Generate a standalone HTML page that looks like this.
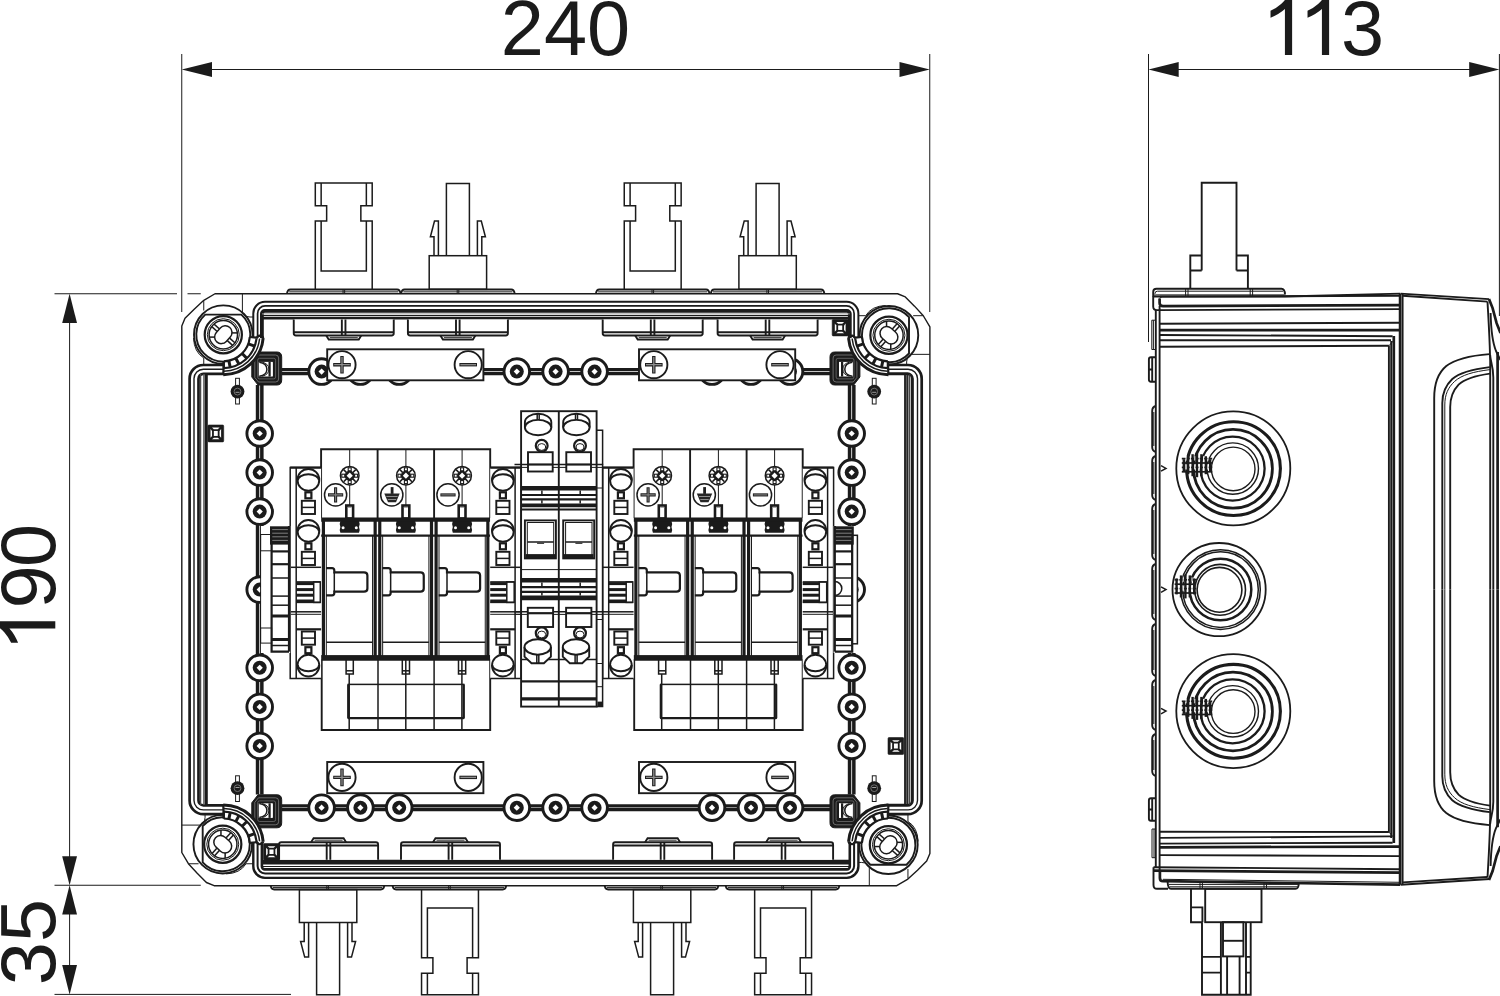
<!DOCTYPE html>
<html><head><meta charset="utf-8"><title>Drawing</title><style>
html,body{margin:0;padding:0;background:#fff}
svg{display:block;font-family:"Liberation Sans",sans-serif}
path,rect,circle,ellipse,polyline,polygon,line{fill:none;stroke:#1b1b1b;stroke-width:1;stroke-linejoin:miter}
.t{stroke-width:1} .h{stroke-width:.8} .m{stroke-width:1.5} .k{stroke-width:2.2} .n{stroke-width:1.9} .kn{stroke-width:2.7} .kk{stroke-width:3}
.f{fill:#1b1b1b;stroke:none} .w{fill:#fff}
text{fill:#1b1b1b}
</style></head><body>
<svg width="1500" height="996" viewBox="0 0 1500 996">
<g id="dims">
<path class="t" d="M181.75 54L181.75 312"/>
<path class="t" d="M929.75 54L929.75 312"/>
<path class="t" d="M200 69.5L912 69.5"/>
<path class="f" d="M181.75 69.5L212 62V77Z"/><path class="f" d="M929.75 69.5L899.5 62V77Z"/>
<text x="500.8" y="55" font-size="77.5">240</text>
<path class="t" d="M1148.5 54L1148.5 342"/>
<path class="t" d="M1499.4 54L1499.4 316"/>
<path class="t" d="M1170 69.5L1480 69.5"/>
<path class="f" d="M1148.5 69.5L1178.7 62V77Z"/><path class="f" d="M1499.4 69.5L1469.2 62V77Z"/>
<path class="f" transform="translate(1261.6,55) rotate(0) scale(0.04,-0.04)" d="M763 0H583V1147Q518 1085 412.5 1023Q307 961 223 930V1104Q374 1175 487 1276Q600 1377 647 1472H763Z"/>
<path class="f" transform="translate(1298.6,55) rotate(0) scale(0.04,-0.04)" d="M763 0H583V1147Q518 1085 412.5 1023Q307 961 223 930V1104Q374 1175 487 1276Q600 1377 647 1472H763Z"/>
<text x="1341" y="55" font-size="77.5">3</text>
<path class="t" d="M54.5 293.75L177 293.75"/>
<path class="t" d="M187.5 293.75L200.75 293.75"/>
<path class="t" d="M54.5 885.25L200.75 885.25"/>
<path class="t" d="M54.5 994.4L291 994.4"/>
<path class="t" d="M69.6 310L69.6 870"/>
<path class="t" d="M69.6 900L69.6 980"/>
<path class="f" d="M69.6 293.75L62.2 323H77Z"/><path class="f" d="M69.6 885.25L62.2 856.2H77Z"/>
<path class="f" d="M69.6 885.25L62.2 914.5H77Z"/><path class="f" d="M69.6 994.4L62.2 965H77Z"/>
<path class="f" transform="translate(55.3,651.7) rotate(-90) scale(0.04,-0.04)" d="M763 0H583V1147Q518 1085 412.5 1023Q307 961 223 930V1104Q374 1175 487 1276Q600 1377 647 1472H763Z"/>
<text transform="translate(55.3,608.5) rotate(-90)" font-size="77.5">9</text>
<text transform="translate(55.3,566.9) rotate(-90)" font-size="77.5">0</text>
<text transform="translate(55.3,985.2) rotate(-90)" font-size="77.5">35</text>
</g>
<g id="front">
<path class="t" style="stroke-width:3.2" d="M281.5 369.7L830 369.7"/>
<path class="t" style="stroke-width:3.2" d="M281.5 373.55L830 373.55"/>
<path class="t" style="stroke-width:3.2" d="M281.5 805.8L830 805.8"/>
<path class="t" style="stroke-width:3.2" d="M281.5 809.65L830 809.65"/>
<path class="t" style="stroke-width:3.5" d="M257.55 385L257.55 794.5"/>
<path class="t" style="stroke-width:3.5" d="M261.85 385L261.85 794.5"/>
<path class="t" style="stroke-width:3.5" d="M849.55 385L849.55 794.5"/>
<path class="t" style="stroke-width:3.5" d="M853.85 385L853.85 794.5"/>
<circle cx="321.6" cy="371.6" r="12.8" style="fill:#fff;stroke-width:2.9"/>
<circle class="f" cx="321.6" cy="371.6" r="7"/>
<path d="M318.5 371.6L321.6 368.5L324.7 371.6L321.6 374.7Z" style="fill:#fff;stroke:none"/>
<circle cx="321.6" cy="807.7" r="12.8" style="fill:#fff;stroke-width:2.9"/>
<circle class="f" cx="321.6" cy="807.7" r="7"/>
<path d="M318.5 807.7L321.6 804.6L324.7 807.7L321.6 810.8Z" style="fill:#fff;stroke:none"/>
<circle cx="360.4" cy="371.6" r="12.8" style="fill:#fff;stroke-width:2.9"/>
<circle class="f" cx="360.4" cy="371.6" r="7"/>
<path d="M357.3 371.6L360.4 368.5L363.5 371.6L360.4 374.7Z" style="fill:#fff;stroke:none"/>
<circle cx="360.4" cy="807.7" r="12.8" style="fill:#fff;stroke-width:2.9"/>
<circle class="f" cx="360.4" cy="807.7" r="7"/>
<path d="M357.3 807.7L360.4 804.6L363.5 807.7L360.4 810.8Z" style="fill:#fff;stroke:none"/>
<circle cx="399.2" cy="371.6" r="12.8" style="fill:#fff;stroke-width:2.9"/>
<circle class="f" cx="399.2" cy="371.6" r="7"/>
<path d="M396.1 371.6L399.2 368.5L402.3 371.6L399.2 374.7Z" style="fill:#fff;stroke:none"/>
<circle cx="399.2" cy="807.7" r="12.8" style="fill:#fff;stroke-width:2.9"/>
<circle class="f" cx="399.2" cy="807.7" r="7"/>
<path d="M396.1 807.7L399.2 804.6L402.3 807.7L399.2 810.8Z" style="fill:#fff;stroke:none"/>
<circle cx="516.8" cy="371.6" r="12.8" style="fill:#fff;stroke-width:2.9"/>
<circle class="f" cx="516.8" cy="371.6" r="7"/>
<path d="M513.7 371.6L516.8 368.5L519.9 371.6L516.8 374.7Z" style="fill:#fff;stroke:none"/>
<circle cx="516.8" cy="807.7" r="12.8" style="fill:#fff;stroke-width:2.9"/>
<circle class="f" cx="516.8" cy="807.7" r="7"/>
<path d="M513.7 807.7L516.8 804.6L519.9 807.7L516.8 810.8Z" style="fill:#fff;stroke:none"/>
<circle cx="555.6" cy="371.6" r="12.8" style="fill:#fff;stroke-width:2.9"/>
<circle class="f" cx="555.6" cy="371.6" r="7"/>
<path d="M552.5 371.6L555.6 368.5L558.7 371.6L555.6 374.7Z" style="fill:#fff;stroke:none"/>
<circle cx="555.6" cy="807.7" r="12.8" style="fill:#fff;stroke-width:2.9"/>
<circle class="f" cx="555.6" cy="807.7" r="7"/>
<path d="M552.5 807.7L555.6 804.6L558.7 807.7L555.6 810.8Z" style="fill:#fff;stroke:none"/>
<circle cx="594.6" cy="371.6" r="12.8" style="fill:#fff;stroke-width:2.9"/>
<circle class="f" cx="594.6" cy="371.6" r="7"/>
<path d="M591.5 371.6L594.6 368.5L597.7 371.6L594.6 374.7Z" style="fill:#fff;stroke:none"/>
<circle cx="594.6" cy="807.7" r="12.8" style="fill:#fff;stroke-width:2.9"/>
<circle class="f" cx="594.6" cy="807.7" r="7"/>
<path d="M591.5 807.7L594.6 804.6L597.7 807.7L594.6 810.8Z" style="fill:#fff;stroke:none"/>
<circle cx="712" cy="371.6" r="12.8" style="fill:#fff;stroke-width:2.9"/>
<circle class="f" cx="712" cy="371.6" r="7"/>
<path d="M708.9 371.6L712 368.5L715.1 371.6L712 374.7Z" style="fill:#fff;stroke:none"/>
<circle cx="712" cy="807.7" r="12.8" style="fill:#fff;stroke-width:2.9"/>
<circle class="f" cx="712" cy="807.7" r="7"/>
<path d="M708.9 807.7L712 804.6L715.1 807.7L712 810.8Z" style="fill:#fff;stroke:none"/>
<circle cx="751" cy="371.6" r="12.8" style="fill:#fff;stroke-width:2.9"/>
<circle class="f" cx="751" cy="371.6" r="7"/>
<path d="M747.9 371.6L751 368.5L754.1 371.6L751 374.7Z" style="fill:#fff;stroke:none"/>
<circle cx="751" cy="807.7" r="12.8" style="fill:#fff;stroke-width:2.9"/>
<circle class="f" cx="751" cy="807.7" r="7"/>
<path d="M747.9 807.7L751 804.6L754.1 807.7L751 810.8Z" style="fill:#fff;stroke:none"/>
<circle cx="790" cy="371.6" r="12.8" style="fill:#fff;stroke-width:2.9"/>
<circle class="f" cx="790" cy="371.6" r="7"/>
<path d="M786.9 371.6L790 368.5L793.1 371.6L790 374.7Z" style="fill:#fff;stroke:none"/>
<circle cx="790" cy="807.7" r="12.8" style="fill:#fff;stroke-width:2.9"/>
<circle class="f" cx="790" cy="807.7" r="7"/>
<path d="M786.9 807.7L790 804.6L793.1 807.7L790 810.8Z" style="fill:#fff;stroke:none"/>
<circle cx="259.7" cy="433.5" r="12.8" style="fill:#fff;stroke-width:2.9"/>
<circle class="f" cx="259.7" cy="433.5" r="7"/>
<path d="M256.6 433.5L259.7 430.4L262.8 433.5L259.7 436.6Z" style="fill:#fff;stroke:none"/>
<circle cx="851.7" cy="433.5" r="12.8" style="fill:#fff;stroke-width:2.9"/>
<circle class="f" cx="851.7" cy="433.5" r="7"/>
<path d="M848.6 433.5L851.7 430.4L854.8 433.5L851.7 436.6Z" style="fill:#fff;stroke:none"/>
<circle cx="259.7" cy="472.6" r="12.8" style="fill:#fff;stroke-width:2.9"/>
<circle class="f" cx="259.7" cy="472.6" r="7"/>
<path d="M256.6 472.6L259.7 469.5L262.8 472.6L259.7 475.7Z" style="fill:#fff;stroke:none"/>
<circle cx="851.7" cy="472.6" r="12.8" style="fill:#fff;stroke-width:2.9"/>
<circle class="f" cx="851.7" cy="472.6" r="7"/>
<path d="M848.6 472.6L851.7 469.5L854.8 472.6L851.7 475.7Z" style="fill:#fff;stroke:none"/>
<circle cx="259.7" cy="511.6" r="12.8" style="fill:#fff;stroke-width:2.9"/>
<circle class="f" cx="259.7" cy="511.6" r="7"/>
<path d="M256.6 511.6L259.7 508.5L262.8 511.6L259.7 514.7Z" style="fill:#fff;stroke:none"/>
<circle cx="851.7" cy="511.6" r="12.8" style="fill:#fff;stroke-width:2.9"/>
<circle class="f" cx="851.7" cy="511.6" r="7"/>
<path d="M848.6 511.6L851.7 508.5L854.8 511.6L851.7 514.7Z" style="fill:#fff;stroke:none"/>
<circle cx="259.7" cy="589.6" r="12.8" style="fill:#fff;stroke-width:2.9"/>
<circle class="f" cx="259.7" cy="589.6" r="7"/>
<path d="M256.6 589.6L259.7 586.5L262.8 589.6L259.7 592.7Z" style="fill:#fff;stroke:none"/>
<circle cx="851.7" cy="589.6" r="12.8" style="fill:#fff;stroke-width:2.9"/>
<circle class="f" cx="851.7" cy="589.6" r="7"/>
<path d="M848.6 589.6L851.7 586.5L854.8 589.6L851.7 592.7Z" style="fill:#fff;stroke:none"/>
<circle cx="259.7" cy="667.8" r="12.8" style="fill:#fff;stroke-width:2.9"/>
<circle class="f" cx="259.7" cy="667.8" r="7"/>
<path d="M256.6 667.8L259.7 664.7L262.8 667.8L259.7 670.9Z" style="fill:#fff;stroke:none"/>
<circle cx="851.7" cy="667.8" r="12.8" style="fill:#fff;stroke-width:2.9"/>
<circle class="f" cx="851.7" cy="667.8" r="7"/>
<path d="M848.6 667.8L851.7 664.7L854.8 667.8L851.7 670.9Z" style="fill:#fff;stroke:none"/>
<circle cx="259.7" cy="706.9" r="12.8" style="fill:#fff;stroke-width:2.9"/>
<circle class="f" cx="259.7" cy="706.9" r="7"/>
<path d="M256.6 706.9L259.7 703.8L262.8 706.9L259.7 710.0Z" style="fill:#fff;stroke:none"/>
<circle cx="851.7" cy="706.9" r="12.8" style="fill:#fff;stroke-width:2.9"/>
<circle class="f" cx="851.7" cy="706.9" r="7"/>
<path d="M848.6 706.9L851.7 703.8L854.8 706.9L851.7 710.0Z" style="fill:#fff;stroke:none"/>
<circle cx="259.7" cy="745.9" r="12.8" style="fill:#fff;stroke-width:2.9"/>
<circle class="f" cx="259.7" cy="745.9" r="7"/>
<path d="M256.6 745.9L259.7 742.8L262.8 745.9L259.7 749.0Z" style="fill:#fff;stroke:none"/>
<circle cx="851.7" cy="745.9" r="12.8" style="fill:#fff;stroke-width:2.9"/>
<circle class="f" cx="851.7" cy="745.9" r="7"/>
<path d="M848.6 745.9L851.7 742.8L854.8 745.9L851.7 749.0Z" style="fill:#fff;stroke:none"/>
<path class="t" d="M215.0 293.75L203.8 300.35L194.2 309.15L185.0 318.35L181.8 326.05L181.8 852.5L188.4 863.7L197.2 873.3L206.4 882.5L214.1 885.7L896.7 885.7L907.9 879.1L917.5 870.3L926.7 861.1L929.9 853.4L929.9 326.95L923.3 315.75L914.5 306.15L905.3 296.95L897.6 293.75Z" style="stroke-width:1.4;stroke-linejoin:round"/>
<path class="t" d="M253.3 339V313.5A11.7 11.7 0 0 1 265.0 301.8H846.7A11.7 11.7 0 0 1 858.4 313.5V339" style="stroke-width:2"/>
<path class="t" d="M257.6 339V313.4A7.5 7.5 0 0 1 265.1 305.9H846.6A7.5 7.5 0 0 1 854.1 313.4V339" style="stroke-width:1.7"/>
<path class="t" d="M261.9 339V313.8A2.9 2.9 0 0 1 264.8 310.9H846.9A2.9 2.9 0 0 1 849.8 313.8V339" style="stroke-width:3.8"/>
<path d="M262 313.9H849.7" style="stroke:#999;stroke-width:1"/>
<path class="t" d="M262 315.5L849.7 315.5"/>
<path class="t" d="M262 318.2H849.7" style="stroke-width:2.8"/>
<path class="t" d="M253.3 840V866.2A11.7 11.7 0 0 0 265.0 877.9H846.7A11.7 11.7 0 0 0 858.4 866.2V840" style="stroke-width:2.4"/>
<path class="t" d="M257.6 840V866.0A7.5 7.5 0 0 0 265.1 873.5H846.6A7.5 7.5 0 0 0 854.1 866.0V840" style="stroke-width:2"/>
<path class="t" d="M261.9 840V866.5A2.9 2.9 0 0 0 264.8 869.4H846.9A2.9 2.9 0 0 0 849.8 866.5V840" style="stroke-width:2.6"/>
<path class="t" d="M262 866.5L849.7 866.5"/>
<path class="t" d="M262 862.2H849.7" style="stroke-width:4.8"/>
<path class="t" d="M225.4 365H203.3A13.7 13.7 0 0 0 189.6 378.7V800.4A13.7 13.7 0 0 0 203.3 814.1H225.4" style="stroke-width:2.7"/>
<path class="t" d="M225.4 369.2H203.4A9.4 9.4 0 0 0 194 378.6V800.5A9.4 9.4 0 0 0 203.4 809.9H225.4" style="stroke-width:1.4"/>
<path class="t" d="M225.4 373.8H203.4A4.9 4.9 0 0 0 198.5 378.7V800.4A4.9 4.9 0 0 0 203.4 805.3H225.4" style="stroke-width:2.7"/>
<path d="M200.6 374V805.1" style="stroke:#4a4a4a;stroke-width:1.3"/>
<path d="M204 374V805.1" style="stroke:#555;stroke-width:1.6"/>
<path class="t" d="M206.4 374V805.1" style="stroke-width:2.8"/>
<path class="t" d="M886.3 365H908.0A13.7 13.7 0 0 1 921.7 378.7V800.4A13.7 13.7 0 0 1 908.0 814.1H886.3" style="stroke-width:2.7"/>
<path class="t" d="M886.3 369.2H908.1A9.4 9.4 0 0 1 917.5 378.6V800.5A9.4 9.4 0 0 1 908.1 809.9H886.3" style="stroke-width:1.4"/>
<path class="t" d="M886.3 373.8H907.5A4.9 4.9 0 0 1 912.4 378.7V800.4A4.9 4.9 0 0 1 907.5 805.3H886.3" style="stroke-width:2.9"/>
<path d="M909.7 374V805.1" style="stroke:#333;stroke-width:1.2"/>
<path class="t" d="M906.3 374V805.1" style="stroke-width:4.4"/>
<path d="M906.5 375V804.1" style="stroke:#5a5a5a;stroke-width:1.4"/>
<path class="m" d="M315.3 289.3V221.1H326.65V205.7H315.3V183.0H372.2V205.7H360.85V221.1H372.2V289.3" />
<path class="m" d="M321.15 221.1V271.0H366.35V221.1" />
<path class="m" d="M321.15 205.7L321.15 183.0"/>
<path class="m" d="M366.35 205.7L366.35 183.0"/>
<path class="n" d="M286.95 293.75Q287.45 289.45 290.45 289.45H397.05Q400.05 289.45 400.55 293.75" />
<path class="t" d="M289.15 291.85L398.35 291.85"/>
<path class="t" d="M343.05 293.75L343.05 289.45"/>
<path class="t" d="M344.65 293.75L344.65 289.45"/>
<path class="n" d="M293.75 319.5V333.3Q293.75 335.5 295.95 335.5H391.55Q393.75 335.5 393.75 333.3V319.5" style="fill:#fff"/>
<path class="n" d="M293.75 332.3L393.75 332.3"/>
<path class="n" d="M341.85 319.5L341.85 335.5"/>
<path class="n" d="M345.45 319.5L345.45 335.5"/>
<path class="n" d="M326.25 335.5L328.75 339.5H358.75L361.25 335.5" />
<path class="h" d="M329.75 337.5L357.75 337.5"/>
<rect class="m" x="429.2" y="255.7" width="57.4" height="33.6" />
<path class="m" d="M446.4 255.7V183.5H469.4V255.7" />
<path class="m" d="M438.4 255.7V221.1H434.5L430.4 236.7H434.0V255.7" />
<path class="m" d="M477.4 255.7V221.1H481.3L485.4 236.7H481.8V255.7" />
<path class="n" d="M401.1 293.75Q401.6 289.45 404.6 289.45H511.2Q514.2 289.45 514.7 293.75" />
<path class="t" d="M403.3 291.85L512.5 291.85"/>
<path class="t" d="M457.2 293.75L457.2 289.45"/>
<path class="t" d="M458.8 293.75L458.8 289.45"/>
<path class="n" d="M407.9 319.5V333.3Q407.9 335.5 410.1 335.5H505.7Q507.9 335.5 507.9 333.3V319.5" style="fill:#fff"/>
<path class="n" d="M407.9 332.3L507.9 332.3"/>
<path class="n" d="M456.0 319.5L456.0 335.5"/>
<path class="n" d="M459.6 319.5L459.6 335.5"/>
<path class="n" d="M440.4 335.5L442.9 339.5H472.9L475.4 335.5" />
<path class="h" d="M443.9 337.5L471.9 337.5"/>
<path class="m" d="M624.25 289.3V221.1H635.6V205.7H624.25V183.0H681.15V205.7H669.8V221.1H681.15V289.3" />
<path class="m" d="M630.1 221.1V271.0H675.3V221.1" />
<path class="m" d="M630.1 205.7L630.1 183.0"/>
<path class="m" d="M675.3 205.7L675.3 183.0"/>
<path class="n" d="M595.9 293.75Q596.4 289.45 599.4 289.45H706.0Q709.0 289.45 709.5 293.75" />
<path class="t" d="M598.1 291.85L707.3 291.85"/>
<path class="t" d="M652.0 293.75L652.0 289.45"/>
<path class="t" d="M653.6 293.75L653.6 289.45"/>
<path class="n" d="M602.7 319.5V333.3Q602.7 335.5 604.9 335.5H700.5Q702.7 335.5 702.7 333.3V319.5" style="fill:#fff"/>
<path class="n" d="M602.7 332.3L702.7 332.3"/>
<path class="n" d="M650.8 319.5L650.8 335.5"/>
<path class="n" d="M654.4 319.5L654.4 335.5"/>
<path class="n" d="M635.2 335.5L637.7 339.5H667.7L670.2 335.5" />
<path class="h" d="M638.7 337.5L666.7 337.5"/>
<rect class="m" x="738.9" y="255.7" width="57.4" height="33.6" />
<path class="m" d="M756.1 255.7V183.5H779.1V255.7" />
<path class="m" d="M748.1 255.7V221.1H744.2L740.1 236.7H743.7V255.7" />
<path class="m" d="M787.1 255.7V221.1H791.0L795.1 236.7H791.5V255.7" />
<path class="n" d="M710.8 293.75Q711.3 289.45 714.3 289.45H820.9Q823.9 289.45 824.4 293.75" />
<path class="t" d="M713 291.85L822.2 291.85"/>
<path class="t" d="M766.9 293.75L766.9 289.45"/>
<path class="t" d="M768.5 293.75L768.5 289.45"/>
<path class="n" d="M717.6 319.5V333.3Q717.6 335.5 719.8 335.5H815.4Q817.6 335.5 817.6 333.3V319.5" style="fill:#fff"/>
<path class="n" d="M717.6 332.3L817.6 332.3"/>
<path class="n" d="M765.7 319.5L765.7 335.5"/>
<path class="n" d="M769.3 319.5L769.3 335.5"/>
<path class="n" d="M750.1 335.5L752.6 339.5H782.6L785.1 335.5" />
<path class="h" d="M753.6 337.5L781.6 337.5"/>
<rect class="m" x="299.4" y="889.6" width="57.4" height="32.9" />
<path class="m" d="M316.6 922.5V994.8H339.6V922.5" />
<path class="m" d="M308.6 922.5V957.1H304.7L300.6 941.5H304.2V922.5" />
<path class="m" d="M347.6 922.5V957.1H351.5L355.6 941.5H352.0V922.5" />
<path class="n" d="M270.7 885.7Q271.2 889.5 274.2 889.5H380.8Q383.8 889.5 384.3 885.7" />
<path class="t" d="M272.9 887.6L382.1 887.6"/>
<path class="t" d="M326.8 885.7L326.8 889.5"/>
<path class="t" d="M328.4 885.7L328.4 889.5"/>
<path class="n" d="M279.1 859.8V844.5Q279.1 842.3 281.3 842.3H375.9Q378.1 842.3 378.1 844.5V859.8" style="fill:#fff"/>
<path class="n" d="M279.1 845.5L378.1 845.5"/>
<path class="n" d="M326.7 859.8L326.7 842.3"/>
<path class="n" d="M330.3 859.8L330.3 842.3"/>
<path class="n" d="M311.1 842.3L313.6 838.3H343.6L346.1 842.3" />
<path class="h" d="M314.6 840.3L342.6 840.3"/>
<path class="m" d="M421.55 889.6V957.8H432.9V973.2H421.55V994.8H478.45V973.2H467.1V957.8H478.45V889.6" />
<path class="m" d="M427.4 957.8V907.9H472.6V957.8" />
<path class="m" d="M427.4 973.2L427.4 994.8"/>
<path class="m" d="M472.6 973.2L472.6 994.8"/>
<path class="n" d="M392.6 885.7Q393.1 889.5 396.1 889.5H502.7Q505.7 889.5 506.2 885.7" />
<path class="t" d="M394.8 887.6L504.0 887.6"/>
<path class="t" d="M448.7 885.7L448.7 889.5"/>
<path class="t" d="M450.3 885.7L450.3 889.5"/>
<path class="n" d="M401.0 859.8V844.5Q401.0 842.3 403.2 842.3H497.8Q500.0 842.3 500.0 844.5V859.8" style="fill:#fff"/>
<path class="n" d="M401.0 845.5L500.0 845.5"/>
<path class="n" d="M448.6 859.8L448.6 842.3"/>
<path class="n" d="M452.2 859.8L452.2 842.3"/>
<path class="n" d="M433.0 842.3L435.5 838.3H465.5L468.0 842.3" />
<path class="h" d="M436.5 840.3L464.5 840.3"/>
<rect class="m" x="633.4" y="889.6" width="57.4" height="32.9" />
<path class="m" d="M650.6 922.5V994.8H673.6V922.5" />
<path class="m" d="M642.6 922.5V957.1H638.7L634.6 941.5H638.2V922.5" />
<path class="m" d="M681.6 922.5V957.1H685.5L689.6 941.5H686.0V922.5" />
<path class="n" d="M604.7 885.7Q605.2 889.5 608.2 889.5H714.8Q717.8 889.5 718.3 885.7" />
<path class="t" d="M606.9 887.6L716.1 887.6"/>
<path class="t" d="M660.8 885.7L660.8 889.5"/>
<path class="t" d="M662.4 885.7L662.4 889.5"/>
<path class="n" d="M613.1 859.8V844.5Q613.1 842.3 615.3 842.3H709.9Q712.1 842.3 712.1 844.5V859.8" style="fill:#fff"/>
<path class="n" d="M613.1 845.5L712.1 845.5"/>
<path class="n" d="M660.7 859.8L660.7 842.3"/>
<path class="n" d="M664.3 859.8L664.3 842.3"/>
<path class="n" d="M645.1 842.3L647.6 838.3H677.6L680.1 842.3" />
<path class="h" d="M648.6 840.3L676.6 840.3"/>
<path class="m" d="M754.65 889.6V957.8H766.0V973.2H754.65V994.8H811.55V973.2H800.2V957.8H811.55V889.6" />
<path class="m" d="M760.5 957.8V907.9H805.7V957.8" />
<path class="m" d="M760.5 973.2L760.5 994.8"/>
<path class="m" d="M805.7 973.2L805.7 994.8"/>
<path class="n" d="M725.7 885.7Q726.2 889.5 729.2 889.5H835.8Q838.8 889.5 839.3 885.7" />
<path class="t" d="M727.9 887.6L837.1 887.6"/>
<path class="t" d="M781.8 885.7L781.8 889.5"/>
<path class="t" d="M783.4 885.7L783.4 889.5"/>
<path class="n" d="M734.1 859.8V844.5Q734.1 842.3 736.3 842.3H830.9Q833.1 842.3 833.1 844.5V859.8" style="fill:#fff"/>
<path class="n" d="M734.1 845.5L833.1 845.5"/>
<path class="n" d="M781.7 859.8L781.7 842.3"/>
<path class="n" d="M785.3 859.8L785.3 842.3"/>
<path class="n" d="M766.1 842.3L768.6 838.3H798.6L801.1 842.3" />
<path class="h" d="M769.6 840.3L797.6 840.3"/>
<rect class="n" x="327.2" y="349.3" width="156.2" height="31" style="fill:#fff"/>
<circle cx="342.0" cy="364.7" r="13.6" style="fill:#fff;stroke-width:1.9"/>
<path d="M333.2 364.7H350.8M342.0 355.9V373.5" style="stroke:#1f1f1f;stroke-width:3.4"/>
<path d="M334.2 364.7H349.8M342.0 356.9V372.5" style="stroke:#8e8e8e;stroke-width:1.3"/>
<circle cx="468.2" cy="364.7" r="13.6" style="fill:#fff;stroke-width:1.9"/>
<path d="M459.4 364.7H477.0" style="stroke:#1f1f1f;stroke-width:3.4"/>
<path d="M460.4 364.7H476.0" style="stroke:#8e8e8e;stroke-width:1.3"/>
<rect class="n" x="327.2" y="762" width="156.2" height="31.2" style="fill:#fff"/>
<circle cx="342.0" cy="777.4" r="13.6" style="fill:#fff;stroke-width:1.9"/>
<path d="M333.2 777.4H350.8M342.0 768.6V786.2" style="stroke:#1f1f1f;stroke-width:3.4"/>
<path d="M334.2 777.4H349.8M342.0 769.6V785.2" style="stroke:#8e8e8e;stroke-width:1.3"/>
<circle cx="468.2" cy="777.4" r="13.6" style="fill:#fff;stroke-width:1.9"/>
<path d="M459.4 777.4H477.0" style="stroke:#1f1f1f;stroke-width:3.4"/>
<path d="M460.4 777.4H476.0" style="stroke:#8e8e8e;stroke-width:1.3"/>
<rect class="n" x="639" y="349.3" width="156.2" height="31" style="fill:#fff"/>
<circle cx="653.8" cy="364.7" r="13.6" style="fill:#fff;stroke-width:1.9"/>
<path d="M645.0 364.7H662.6M653.8 355.9V373.5" style="stroke:#1f1f1f;stroke-width:3.4"/>
<path d="M646.0 364.7H661.6M653.8 356.9V372.5" style="stroke:#8e8e8e;stroke-width:1.3"/>
<circle cx="780" cy="364.7" r="13.6" style="fill:#fff;stroke-width:1.9"/>
<path d="M771.2 364.7H788.8" style="stroke:#1f1f1f;stroke-width:3.4"/>
<path d="M772.2 364.7H787.8" style="stroke:#8e8e8e;stroke-width:1.3"/>
<rect class="n" x="639" y="762" width="156.2" height="31.2" style="fill:#fff"/>
<circle cx="653.8" cy="777.4" r="13.6" style="fill:#fff;stroke-width:1.9"/>
<path d="M645.0 777.4H662.6M653.8 768.6V786.2" style="stroke:#1f1f1f;stroke-width:3.4"/>
<path d="M646.0 777.4H661.6M653.8 769.6V785.2" style="stroke:#8e8e8e;stroke-width:1.3"/>
<circle cx="780" cy="777.4" r="13.6" style="fill:#fff;stroke-width:1.9"/>
<path d="M771.2 777.4H788.8" style="stroke:#1f1f1f;stroke-width:3.4"/>
<path d="M772.2 777.4H787.8" style="stroke:#8e8e8e;stroke-width:1.3"/>
<rect class="t" x="321.1" y="449.3" width="169.1" height="280.7" style="fill:#fff;stroke:none"/>
<path class="n" d="M321.1 518V449.3H490.2V518" />
<path class="n" d="M377.6 449.3L377.6 518"/>
<path class="n" d="M434.1 449.3L434.1 518"/>
<path class="t" d="M349.7 449.3L349.7 505"/>
<circle cx="349.7" cy="475.7" r="9.3" style="fill:#fff;stroke-width:1.5"/>
<circle class="f" cx="349.7" cy="475.7" r="5"/>
<rect x="354.6" y="474.2" width="3" height="3" style="stroke-width:1.1"/>
<rect x="348.2" y="480.6" width="3" height="3" style="stroke-width:1.1"/>
<rect x="341.8" y="474.2" width="3" height="3" style="stroke-width:1.1"/>
<rect x="348.2" y="467.8" width="3" height="3" style="stroke-width:1.1"/>
<path d="M352.88 478.88L355.78 481.78" style="stroke-width:1.6"/>
<path d="M346.52 478.88L343.62 481.78" style="stroke-width:1.6"/>
<path d="M346.52 472.52L343.62 469.62" style="stroke-width:1.6"/>
<path d="M352.88 472.52L355.78 469.62" style="stroke-width:1.6"/>
<path d="M346.6 475.7L349.7 472.6L352.8 475.7L349.7 478.8Z" style="fill:#fff;stroke:none"/>
<circle cx="335.6" cy="494.9" r="11.1" style="fill:#fff;stroke-width:1.5"/>
<path d="M328.0 494.9H343.2M335.6 487.3V502.5" style="stroke:#1f1f1f;stroke-width:3.1"/>
<path d="M328.9 494.9H342.3M335.6 488.2V501.6" style="stroke:#808080;stroke-width:1.1"/>
<rect class="t" x="346.3" y="505.5" width="6.8" height="13" style="fill:#fff;stroke-width:2.6"/>
<path d="M347.7 507.4H351.7" style="stroke:#888;stroke-width:.8"/>
<path class="f" d="M340.4 521H359.0L359.7 524L359.0 527L359.7 530L359.0 532.7H340.4L339.7 530L340.4 527L339.7 524Z"/>
<circle cx="343.1" cy="527.8" r="1.5" style="fill:#fff;stroke:none"/><circle cx="356.3" cy="527.8" r="1.5" style="fill:#fff;stroke:none"/>
<path class="t" style="stroke-width:3.2" d="M323.4 519L323.4 658"/>
<path class="t" d="M326.3 536L326.3 657"/>
<path class="t" style="stroke-width:3.2" d="M375.15 519L375.15 658"/>
<path class="t" d="M372.55 536L372.55 657"/>
<path class="m" d="M326.3 642.3L372.55 642.3"/>
<path class="k" d="M326.0 568.1H332.0Q334.3 568.1 334.3 570.5V572.4H364.0Q367.4 572.4 367.4 575.6V588.4Q367.4 591.6 364.0 591.6H334.3V593Q334.3 595.3 332.0 595.3H326.0" />
<path class="m" d="M334.3 572.4L334.3 591.6"/>
<rect class="m" x="346.1" y="659" width="7.2" height="15" />
<path class="m" d="M346.1 670.8L353.3 670.8"/>
<path class="t" d="M405.9 449.3L405.9 505"/>
<circle cx="405.9" cy="475.7" r="9.3" style="fill:#fff;stroke-width:1.5"/>
<circle class="f" cx="405.9" cy="475.7" r="5"/>
<rect x="410.8" y="474.2" width="3" height="3" style="stroke-width:1.1"/>
<rect x="404.4" y="480.6" width="3" height="3" style="stroke-width:1.1"/>
<rect x="398.0" y="474.2" width="3" height="3" style="stroke-width:1.1"/>
<rect x="404.4" y="467.8" width="3" height="3" style="stroke-width:1.1"/>
<path d="M409.08 478.88L411.98 481.78" style="stroke-width:1.6"/>
<path d="M402.72 478.88L399.82 481.78" style="stroke-width:1.6"/>
<path d="M402.72 472.52L399.82 469.62" style="stroke-width:1.6"/>
<path d="M409.08 472.52L411.98 469.62" style="stroke-width:1.6"/>
<path d="M402.8 475.7L405.9 472.6L409.0 475.7L405.9 478.8Z" style="fill:#fff;stroke:none"/>
<circle cx="391.8" cy="494.9" r="11.1" style="fill:#fff;stroke-width:1.5"/>
<path d="M392.1 487.1V493.9" style="stroke:#1f1f1f;stroke-width:2.8"/>
<path d="M384.3 493.5H399.7L396.0 502.3H388.0Z" style="fill:#262626;stroke:none"/>
<path d="M386.4 496.5H397.6M387.8 499.5H396.2" style="stroke:#9a9a9a;stroke-width:.9"/>
<rect class="t" x="402.5" y="505.5" width="6.8" height="13" style="fill:#fff;stroke-width:2.6"/>
<path d="M403.9 507.4H407.9" style="stroke:#888;stroke-width:.8"/>
<path class="f" d="M396.6 521H415.2L415.9 524L415.2 527L415.9 530L415.2 532.7H396.6L395.9 530L396.6 527L395.9 524Z"/>
<circle cx="399.3" cy="527.8" r="1.5" style="fill:#fff;stroke:none"/><circle cx="412.5" cy="527.8" r="1.5" style="fill:#fff;stroke:none"/>
<path class="t" style="stroke-width:3.2" d="M379.75 519L379.75 658"/>
<path class="t" d="M382.65 536L382.65 657"/>
<path class="t" style="stroke-width:3.2" d="M431.5 519L431.5 658"/>
<path class="t" d="M428.9 536L428.9 657"/>
<path class="m" d="M382.65 642.3L428.9 642.3"/>
<path class="k" d="M382.35 568.1H388.35Q390.65 568.1 390.65 570.5V572.4H420.35Q423.75 572.4 423.75 575.6V588.4Q423.75 591.6 420.35 591.6H390.65V593Q390.65 595.3 388.35 595.3H382.35" />
<path class="m" d="M390.65 572.4L390.65 591.6"/>
<rect class="m" x="402.3" y="659" width="7.2" height="15" />
<path class="m" d="M402.3 670.8L409.5 670.8"/>
<path class="t" d="M462.1 449.3L462.1 505"/>
<circle cx="462.1" cy="475.7" r="9.3" style="fill:#fff;stroke-width:1.5"/>
<circle class="f" cx="462.1" cy="475.7" r="5"/>
<rect x="467.0" y="474.2" width="3" height="3" style="stroke-width:1.1"/>
<rect x="460.6" y="480.6" width="3" height="3" style="stroke-width:1.1"/>
<rect x="454.2" y="474.2" width="3" height="3" style="stroke-width:1.1"/>
<rect x="460.6" y="467.8" width="3" height="3" style="stroke-width:1.1"/>
<path d="M465.28 478.88L468.18 481.78" style="stroke-width:1.6"/>
<path d="M458.92 478.88L456.02 481.78" style="stroke-width:1.6"/>
<path d="M458.92 472.52L456.02 469.62" style="stroke-width:1.6"/>
<path d="M465.28 472.52L468.18 469.62" style="stroke-width:1.6"/>
<path d="M459.0 475.7L462.1 472.6L465.2 475.7L462.1 478.8Z" style="fill:#fff;stroke:none"/>
<circle cx="448.0" cy="494.9" r="11.1" style="fill:#fff;stroke-width:1.5"/>
<path d="M440.4 494.9H455.6" style="stroke:#1f1f1f;stroke-width:3.1"/>
<path d="M441.3 494.9H454.7" style="stroke:#808080;stroke-width:1.1"/>
<rect class="t" x="458.7" y="505.5" width="6.8" height="13" style="fill:#fff;stroke-width:2.6"/>
<path d="M460.1 507.4H464.1" style="stroke:#888;stroke-width:.8"/>
<path class="f" d="M452.8 521H471.4L472.1 524L471.4 527L472.1 530L471.4 532.7H452.8L452.1 530L452.8 527L452.1 524Z"/>
<circle cx="455.5" cy="527.8" r="1.5" style="fill:#fff;stroke:none"/><circle cx="468.7" cy="527.8" r="1.5" style="fill:#fff;stroke:none"/>
<path class="t" style="stroke-width:3.2" d="M436.1 519L436.1 658"/>
<path class="t" d="M439.0 536L439.0 657"/>
<path class="t" style="stroke-width:3.2" d="M487.85 519L487.85 658"/>
<path class="t" d="M485.25 536L485.25 657"/>
<path class="m" d="M439.0 642.3L485.25 642.3"/>
<path class="k" d="M438.7 568.1H444.7Q447.0 568.1 447.0 570.5V572.4H476.7Q480.1 572.4 480.1 575.6V588.4Q480.1 591.6 476.7 591.6H447.0V593Q447.0 595.3 444.7 595.3H438.7" />
<path class="m" d="M447.0 572.4L447.0 591.6"/>
<rect class="m" x="458.5" y="659" width="7.2" height="15" />
<path class="m" d="M458.5 670.8L465.7 670.8"/>
<path class="t" style="stroke-width:4.2" d="M321.1 519.6L490.2 519.6"/>
<path class="t" style="stroke-width:2.4" d="M321.1 535.6L490.2 535.6"/>
<path class="t" d="M321.1 655.6L490.2 655.6"/>
<path class="t" style="stroke-width:4.6" d="M321.1 658.4L490.2 658.4"/>
<path class="n" d="M321.7 659V730H490.2V659" />
<path class="m" d="M378.0 659L378.0 730"/>
<path class="m" d="M405.8 659L405.8 730"/>
<path class="m" d="M434.1 659L434.1 730"/>
<path class="m" d="M461.9 659L461.9 730"/>
<path class="m" d="M349.2 674L349.2 730"/>
<rect class="m" x="348.3" y="684.4" width="115.4" height="33.8" />
<path class="k" d="M348.3 718.2L463.7 718.2"/>
<path class="k" d="M348.3 684.4L348.3 718.2"/>
<path class="k" d="M463.7 684.4L463.7 718.2"/>
<rect class="t" x="290.2" y="467.6" width="30.9" height="211" style="fill:#fff;stroke:none"/>
<path class="m" d="M321.1 467.6H290.2V678.6H321.1" />
<path class="m" d="M296.2 467.6L296.2 678.6"/>
<path class="k" d="M321.1 467.6L290.2 467.6"/>
<circle cx="308.4" cy="479.9" r="10.9" style="fill:#fff;stroke-width:1.9"/>
<path class="n" d="M297.8 480.5A10.6 6.2 0 0 1 319.0 480.5" />
<rect class="k" x="305.4" y="492.3" width="6" height="6" />
<rect class="n" x="301.8" y="500.8" width="13.2" height="13.2" />
<path class="m" d="M301.8 507.4L315.0 507.4"/>
<circle cx="308.4" cy="530.9" r="10.9" style="fill:#fff;stroke-width:1.9"/>
<path class="n" d="M297.8 531.5A10.6 6.2 0 0 1 319.0 531.5" />
<rect class="k" x="305.4" y="543.3" width="6" height="6" />
<rect class="n" x="301.8" y="551.8" width="13.2" height="13.2" />
<path class="m" d="M301.8 558.4L315.0 558.4"/>
<circle cx="308.4" cy="665.6" r="10.9" style="fill:#fff;stroke-width:1.9"/>
<path class="n" d="M297.8 665.0A10.6 6.2 0 0 0 319.0 665.0" />
<rect class="k" x="305.4" y="647.2" width="6" height="6" />
<rect class="n" x="301.8" y="631.5" width="13.2" height="13.2" />
<path class="m" d="M301.8 638.1L315.0 638.1"/>
<path class="m" d="M290.2 567.3L321.1 567.3"/>
<path class="kk" d="M296.2 583.6L313.7 583.6"/>
<path class="kk" d="M296.2 589.6L313.7 589.6"/>
<path class="kk" d="M296.2 595.2L313.7 595.2"/>
<path class="kk" d="M296.2 601L313.7 601"/>
<path class="m" d="M296.2 581.9L320.3 581.9"/>
<path class="m" d="M296.2 602.4L320.3 602.4"/>
<rect class="m" x="313.7" y="581.9" width="6.6" height="20.5" />
<path class="m" d="M290.2 611.8L321.1 611.8"/>
<path class="t" d="M290.2 614.3L321.1 614.3"/>
<path class="k" d="M296.2 629.3L321.1 629.3"/>
<rect class="t" x="490.2" y="467.6" width="30.9" height="211" style="fill:#fff;stroke:none"/>
<path class="m" d="M490.2 467.6H521.1V678.6H490.2" />
<path class="m" d="M515.1 467.6L515.1 678.6"/>
<path class="k" d="M490.2 467.6L521.1 467.6"/>
<circle cx="502.9" cy="479.9" r="10.9" style="fill:#fff;stroke-width:1.9"/>
<path class="n" d="M492.3 480.5A10.6 6.2 0 0 1 513.5 480.5" />
<rect class="k" x="499.9" y="492.3" width="6" height="6" />
<rect class="n" x="496.3" y="500.8" width="13.2" height="13.2" />
<path class="m" d="M496.3 507.4L509.5 507.4"/>
<circle cx="502.9" cy="530.9" r="10.9" style="fill:#fff;stroke-width:1.9"/>
<path class="n" d="M492.3 531.5A10.6 6.2 0 0 1 513.5 531.5" />
<rect class="k" x="499.9" y="543.3" width="6" height="6" />
<rect class="n" x="496.3" y="551.8" width="13.2" height="13.2" />
<path class="m" d="M496.3 558.4L509.5 558.4"/>
<circle cx="502.9" cy="665.6" r="10.9" style="fill:#fff;stroke-width:1.9"/>
<path class="n" d="M492.3 665.0A10.6 6.2 0 0 0 513.5 665.0" />
<rect class="k" x="499.9" y="647.2" width="6" height="6" />
<rect class="n" x="496.3" y="631.5" width="13.2" height="13.2" />
<path class="m" d="M496.3 638.1L509.5 638.1"/>
<path class="m" d="M521.1 567.3L490.2 567.3"/>
<path class="kk" d="M490.2 583.6L506.8 583.6"/>
<path class="kk" d="M490.2 589.6L506.8 589.6"/>
<path class="kk" d="M490.2 595.2L506.8 595.2"/>
<path class="kk" d="M490.2 601L506.8 601"/>
<path class="m" d="M490.2 581.9L514.2 581.9"/>
<path class="m" d="M490.2 602.4L514.2 602.4"/>
<rect class="m" x="506.8" y="581.9" width="7.4" height="20.5" />
<path class="m" d="M521.1 611.8L490.2 611.8"/>
<path class="t" d="M521.1 614.3L490.2 614.3"/>
<path class="k" d="M515.1 629.3L490.2 629.3"/>
<rect class="t" x="261.0" y="526" width="29.2" height="127" style="fill:#fff;stroke:none"/>
<rect class="f" x="270.0" y="526.3" width="19.9" height="18.3" />
<path d="M288.7 529.6H272.2" style="stroke:#8a8a8a;stroke-width:.9"/>
<path d="M288.7 533.2H272.2" style="stroke:#8a8a8a;stroke-width:.9"/>
<path d="M288.7 536.8H272.2" style="stroke:#8a8a8a;stroke-width:.9"/>
<path d="M288.7 540.4H272.2" style="stroke:#8a8a8a;stroke-width:.9"/>
<path class="k" d="M271.6 544V651.6H289.0" />
<path class="k" d="M289.0 526L289.0 651.6"/>
<path class="k" d="M271.6 551.4L289.0 551.4"/>
<path class="k" d="M271.6 564.2L289.0 564.2"/>
<path class="m" d="M271.6 578L289.0 578"/>
<path class="m" d="M271.6 596.1L289.0 596.1"/>
<path class="m" d="M271.6 605.2L289.0 605.2"/>
<path class="kk" d="M271.6 616L289.0 616"/>
<path class="kk" d="M271.6 639.5L289.0 639.5"/>
<path class="m" d="M271.6 645.5L289.0 645.5"/>
<rect class="t" x="260.6" y="534.5" width="11.0" height="16.3" />
<rect class="t" x="260.6" y="628" width="11.0" height="15.1" />
<path class="t" d="M260.6 534.5L260.6 643"/>
<rect class="t" x="633.6" y="449.3" width="169.1" height="280.7" style="fill:#fff;stroke:none"/>
<path class="n" d="M633.6 518V449.3H802.7V518" />
<path class="n" d="M690.1 449.3L690.1 518"/>
<path class="n" d="M746.6 449.3L746.6 518"/>
<path class="t" d="M662.2 449.3L662.2 505"/>
<circle cx="662.2" cy="475.7" r="9.3" style="fill:#fff;stroke-width:1.5"/>
<circle class="f" cx="662.2" cy="475.7" r="5"/>
<rect x="667.1" y="474.2" width="3" height="3" style="stroke-width:1.1"/>
<rect x="660.7" y="480.6" width="3" height="3" style="stroke-width:1.1"/>
<rect x="654.3" y="474.2" width="3" height="3" style="stroke-width:1.1"/>
<rect x="660.7" y="467.8" width="3" height="3" style="stroke-width:1.1"/>
<path d="M665.38 478.88L668.28 481.78" style="stroke-width:1.6"/>
<path d="M659.02 478.88L656.12 481.78" style="stroke-width:1.6"/>
<path d="M659.02 472.52L656.12 469.62" style="stroke-width:1.6"/>
<path d="M665.38 472.52L668.28 469.62" style="stroke-width:1.6"/>
<path d="M659.1 475.7L662.2 472.6L665.3 475.7L662.2 478.8Z" style="fill:#fff;stroke:none"/>
<circle cx="648.1" cy="494.9" r="11.1" style="fill:#fff;stroke-width:1.5"/>
<path d="M640.5 494.9H655.7M648.1 487.3V502.5" style="stroke:#1f1f1f;stroke-width:3.1"/>
<path d="M641.4 494.9H654.8M648.1 488.2V501.6" style="stroke:#808080;stroke-width:1.1"/>
<rect class="t" x="658.8" y="505.5" width="6.8" height="13" style="fill:#fff;stroke-width:2.6"/>
<path d="M660.2 507.4H664.2" style="stroke:#888;stroke-width:.8"/>
<path class="f" d="M652.9 521H671.5L672.2 524L671.5 527L672.2 530L671.5 532.7H652.9L652.2 530L652.9 527L652.2 524Z"/>
<circle cx="655.6" cy="527.8" r="1.5" style="fill:#fff;stroke:none"/><circle cx="668.8" cy="527.8" r="1.5" style="fill:#fff;stroke:none"/>
<path class="t" style="stroke-width:3.2" d="M635.9 519L635.9 658"/>
<path class="t" d="M638.8 536L638.8 657"/>
<path class="t" style="stroke-width:3.2" d="M687.65 519L687.65 658"/>
<path class="t" d="M685.05 536L685.05 657"/>
<path class="m" d="M638.8 642.3L685.05 642.3"/>
<path class="k" d="M638.5 568.1H644.5Q646.8 568.1 646.8 570.5V572.4H676.5Q679.9 572.4 679.9 575.6V588.4Q679.9 591.6 676.5 591.6H646.8V593Q646.8 595.3 644.5 595.3H638.5" />
<path class="m" d="M646.8 572.4L646.8 591.6"/>
<rect class="m" x="658.6" y="659" width="7.2" height="15" />
<path class="m" d="M658.6 670.8L665.8 670.8"/>
<path class="t" d="M718.4 449.3L718.4 505"/>
<circle cx="718.4" cy="475.7" r="9.3" style="fill:#fff;stroke-width:1.5"/>
<circle class="f" cx="718.4" cy="475.7" r="5"/>
<rect x="723.3" y="474.2" width="3" height="3" style="stroke-width:1.1"/>
<rect x="716.9" y="480.6" width="3" height="3" style="stroke-width:1.1"/>
<rect x="710.5" y="474.2" width="3" height="3" style="stroke-width:1.1"/>
<rect x="716.9" y="467.8" width="3" height="3" style="stroke-width:1.1"/>
<path d="M721.58 478.88L724.48 481.78" style="stroke-width:1.6"/>
<path d="M715.22 478.88L712.32 481.78" style="stroke-width:1.6"/>
<path d="M715.22 472.52L712.32 469.62" style="stroke-width:1.6"/>
<path d="M721.58 472.52L724.48 469.62" style="stroke-width:1.6"/>
<path d="M715.3 475.7L718.4 472.6L721.5 475.7L718.4 478.8Z" style="fill:#fff;stroke:none"/>
<circle cx="704.3" cy="494.9" r="11.1" style="fill:#fff;stroke-width:1.5"/>
<path d="M704.6 487.1V493.9" style="stroke:#1f1f1f;stroke-width:2.8"/>
<path d="M696.8 493.5H712.2L708.5 502.3H700.5Z" style="fill:#262626;stroke:none"/>
<path d="M698.9 496.5H710.1M700.3 499.5H708.7" style="stroke:#9a9a9a;stroke-width:.9"/>
<rect class="t" x="715.0" y="505.5" width="6.8" height="13" style="fill:#fff;stroke-width:2.6"/>
<path d="M716.4 507.4H720.4" style="stroke:#888;stroke-width:.8"/>
<path class="f" d="M709.1 521H727.7L728.4 524L727.7 527L728.4 530L727.7 532.7H709.1L708.4 530L709.1 527L708.4 524Z"/>
<circle cx="711.8" cy="527.8" r="1.5" style="fill:#fff;stroke:none"/><circle cx="725.0" cy="527.8" r="1.5" style="fill:#fff;stroke:none"/>
<path class="t" style="stroke-width:3.2" d="M692.25 519L692.25 658"/>
<path class="t" d="M695.15 536L695.15 657"/>
<path class="t" style="stroke-width:3.2" d="M744.0 519L744.0 658"/>
<path class="t" d="M741.4 536L741.4 657"/>
<path class="m" d="M695.15 642.3L741.4 642.3"/>
<path class="k" d="M694.85 568.1H700.85Q703.15 568.1 703.15 570.5V572.4H732.85Q736.25 572.4 736.25 575.6V588.4Q736.25 591.6 732.85 591.6H703.15V593Q703.15 595.3 700.85 595.3H694.85" />
<path class="m" d="M703.15 572.4L703.15 591.6"/>
<rect class="m" x="714.8" y="659" width="7.2" height="15" />
<path class="m" d="M714.8 670.8L722.0 670.8"/>
<path class="t" d="M774.6 449.3L774.6 505"/>
<circle cx="774.6" cy="475.7" r="9.3" style="fill:#fff;stroke-width:1.5"/>
<circle class="f" cx="774.6" cy="475.7" r="5"/>
<rect x="779.5" y="474.2" width="3" height="3" style="stroke-width:1.1"/>
<rect x="773.1" y="480.6" width="3" height="3" style="stroke-width:1.1"/>
<rect x="766.7" y="474.2" width="3" height="3" style="stroke-width:1.1"/>
<rect x="773.1" y="467.8" width="3" height="3" style="stroke-width:1.1"/>
<path d="M777.78 478.88L780.68 481.78" style="stroke-width:1.6"/>
<path d="M771.42 478.88L768.52 481.78" style="stroke-width:1.6"/>
<path d="M771.42 472.52L768.52 469.62" style="stroke-width:1.6"/>
<path d="M777.78 472.52L780.68 469.62" style="stroke-width:1.6"/>
<path d="M771.5 475.7L774.6 472.6L777.7 475.7L774.6 478.8Z" style="fill:#fff;stroke:none"/>
<circle cx="760.5" cy="494.9" r="11.1" style="fill:#fff;stroke-width:1.5"/>
<path d="M752.9 494.9H768.1" style="stroke:#1f1f1f;stroke-width:3.1"/>
<path d="M753.8 494.9H767.2" style="stroke:#808080;stroke-width:1.1"/>
<rect class="t" x="771.2" y="505.5" width="6.8" height="13" style="fill:#fff;stroke-width:2.6"/>
<path d="M772.6 507.4H776.6" style="stroke:#888;stroke-width:.8"/>
<path class="f" d="M765.3 521H783.9L784.6 524L783.9 527L784.6 530L783.9 532.7H765.3L764.6 530L765.3 527L764.6 524Z"/>
<circle cx="768.0" cy="527.8" r="1.5" style="fill:#fff;stroke:none"/><circle cx="781.2" cy="527.8" r="1.5" style="fill:#fff;stroke:none"/>
<path class="t" style="stroke-width:3.2" d="M748.6 519L748.6 658"/>
<path class="t" d="M751.5 536L751.5 657"/>
<path class="t" style="stroke-width:3.2" d="M800.35 519L800.35 658"/>
<path class="t" d="M797.75 536L797.75 657"/>
<path class="m" d="M751.5 642.3L797.75 642.3"/>
<path class="k" d="M751.2 568.1H757.2Q759.5 568.1 759.5 570.5V572.4H789.2Q792.6 572.4 792.6 575.6V588.4Q792.6 591.6 789.2 591.6H759.5V593Q759.5 595.3 757.2 595.3H751.2" />
<path class="m" d="M759.5 572.4L759.5 591.6"/>
<rect class="m" x="771.0" y="659" width="7.2" height="15" />
<path class="m" d="M771.0 670.8L778.2 670.8"/>
<path class="t" style="stroke-width:4.2" d="M633.6 519.6L802.7 519.6"/>
<path class="t" style="stroke-width:2.4" d="M633.6 535.6L802.7 535.6"/>
<path class="t" d="M633.6 655.6L802.7 655.6"/>
<path class="t" style="stroke-width:4.6" d="M633.6 658.4L802.7 658.4"/>
<path class="n" d="M634.2 659V730H802.7V659" />
<path class="m" d="M690.5 659L690.5 730"/>
<path class="m" d="M718.3 659L718.3 730"/>
<path class="m" d="M746.6 659L746.6 730"/>
<path class="m" d="M774.4 659L774.4 730"/>
<path class="m" d="M661.7 674L661.7 730"/>
<rect class="m" x="660.8" y="684.4" width="115.4" height="33.8" />
<path class="k" d="M660.8 718.2L776.2 718.2"/>
<path class="k" d="M660.8 684.4L660.8 718.2"/>
<path class="k" d="M776.2 684.4L776.2 718.2"/>
<rect class="t" x="602.7" y="467.6" width="30.9" height="211" style="fill:#fff;stroke:none"/>
<path class="m" d="M633.6 467.6H602.7V678.6H633.6" />
<path class="m" d="M608.7 467.6L608.7 678.6"/>
<path class="k" d="M633.6 467.6L602.7 467.6"/>
<circle cx="620.9" cy="479.9" r="10.9" style="fill:#fff;stroke-width:1.9"/>
<path class="n" d="M610.3 480.5A10.6 6.2 0 0 1 631.5 480.5" />
<rect class="k" x="617.9" y="492.3" width="6" height="6" />
<rect class="n" x="614.3" y="500.8" width="13.2" height="13.2" />
<path class="m" d="M614.3 507.4L627.5 507.4"/>
<circle cx="620.9" cy="530.9" r="10.9" style="fill:#fff;stroke-width:1.9"/>
<path class="n" d="M610.3 531.5A10.6 6.2 0 0 1 631.5 531.5" />
<rect class="k" x="617.9" y="543.3" width="6" height="6" />
<rect class="n" x="614.3" y="551.8" width="13.2" height="13.2" />
<path class="m" d="M614.3 558.4L627.5 558.4"/>
<circle cx="620.9" cy="665.6" r="10.9" style="fill:#fff;stroke-width:1.9"/>
<path class="n" d="M610.3 665.0A10.6 6.2 0 0 0 631.5 665.0" />
<rect class="k" x="617.9" y="647.2" width="6" height="6" />
<rect class="n" x="614.3" y="631.5" width="13.2" height="13.2" />
<path class="m" d="M614.3 638.1L627.5 638.1"/>
<path class="m" d="M602.7 567.3L633.6 567.3"/>
<path class="kk" d="M608.7 583.6L626.2 583.6"/>
<path class="kk" d="M608.7 589.6L626.2 589.6"/>
<path class="kk" d="M608.7 595.2L626.2 595.2"/>
<path class="kk" d="M608.7 601L626.2 601"/>
<path class="m" d="M608.7 581.9L632.8 581.9"/>
<path class="m" d="M608.7 602.4L632.8 602.4"/>
<rect class="m" x="626.2" y="581.9" width="6.6" height="20.5" />
<path class="m" d="M602.7 611.8L633.6 611.8"/>
<path class="t" d="M602.7 614.3L633.6 614.3"/>
<path class="k" d="M608.7 629.3L633.6 629.3"/>
<rect class="t" x="802.7" y="467.6" width="30.9" height="211" style="fill:#fff;stroke:none"/>
<path class="m" d="M802.7 467.6H833.6V678.6H802.7" />
<path class="m" d="M827.6 467.6L827.6 678.6"/>
<path class="k" d="M802.7 467.6L833.6 467.6"/>
<circle cx="815.4" cy="479.9" r="10.9" style="fill:#fff;stroke-width:1.9"/>
<path class="n" d="M804.8 480.5A10.6 6.2 0 0 1 826.0 480.5" />
<rect class="k" x="812.4" y="492.3" width="6" height="6" />
<rect class="n" x="808.8" y="500.8" width="13.2" height="13.2" />
<path class="m" d="M808.8 507.4L822.0 507.4"/>
<circle cx="815.4" cy="530.9" r="10.9" style="fill:#fff;stroke-width:1.9"/>
<path class="n" d="M804.8 531.5A10.6 6.2 0 0 1 826.0 531.5" />
<rect class="k" x="812.4" y="543.3" width="6" height="6" />
<rect class="n" x="808.8" y="551.8" width="13.2" height="13.2" />
<path class="m" d="M808.8 558.4L822.0 558.4"/>
<circle cx="815.4" cy="665.6" r="10.9" style="fill:#fff;stroke-width:1.9"/>
<path class="n" d="M804.8 665.0A10.6 6.2 0 0 0 826.0 665.0" />
<rect class="k" x="812.4" y="647.2" width="6" height="6" />
<rect class="n" x="808.8" y="631.5" width="13.2" height="13.2" />
<path class="m" d="M808.8 638.1L822.0 638.1"/>
<path class="m" d="M833.6 567.3L802.7 567.3"/>
<path class="kk" d="M802.7 583.6L819.3 583.6"/>
<path class="kk" d="M802.7 589.6L819.3 589.6"/>
<path class="kk" d="M802.7 595.2L819.3 595.2"/>
<path class="kk" d="M802.7 601L819.3 601"/>
<path class="m" d="M802.7 581.9L826.7 581.9"/>
<path class="m" d="M802.7 602.4L826.7 602.4"/>
<rect class="m" x="819.3" y="581.9" width="7.4" height="20.5" />
<path class="m" d="M833.6 611.8L802.7 611.8"/>
<path class="t" d="M833.6 614.3L802.7 614.3"/>
<path class="k" d="M827.6 629.3L802.7 629.3"/>
<rect class="t" x="833.6" y="526" width="24.4" height="127" style="fill:#fff;stroke:none"/>
<rect class="f" x="833.9" y="526.3" width="19.9" height="18.3" />
<path d="M835.1 529.6H851.6" style="stroke:#8a8a8a;stroke-width:.9"/>
<path d="M835.1 533.2H851.6" style="stroke:#8a8a8a;stroke-width:.9"/>
<path d="M835.1 536.8H851.6" style="stroke:#8a8a8a;stroke-width:.9"/>
<path d="M835.1 540.4H851.6" style="stroke:#8a8a8a;stroke-width:.9"/>
<path class="k" d="M852.2 544V651.6H834.8" />
<path class="k" d="M834.8 526L834.8 651.6"/>
<path class="k" d="M852.2 551.4L834.8 551.4"/>
<path class="k" d="M852.2 564.2L834.8 564.2"/>
<path class="m" d="M852.2 578L834.8 578"/>
<path class="m" d="M852.2 596.1L834.8 596.1"/>
<path class="m" d="M852.2 605.2L834.8 605.2"/>
<path class="kk" d="M852.2 616L834.8 616"/>
<path class="kk" d="M852.2 639.5L834.8 639.5"/>
<path class="m" d="M852.2 645.5L834.8 645.5"/>
<rect class="m" x="852.2" y="535.3" width="5.2" height="108.5" />
<path class="m" d="M834.8 581.6A7 7 0 0 1 834.8 595.6" />
<rect class="n" x="521.1" y="411.2" width="75.5" height="295.4" style="fill:#fff"/>
<path class="n" d="M558.8 411.2L558.8 706.6"/>
<path class="m" d="M514.5 464.4L603.2 464.4"/>
<path class="t" d="M514.5 467.4L603.2 467.4"/>
<path class="m" d="M514.5 611.8L603.2 611.8"/>
<path class="t" d="M514.5 614.4L603.2 614.4"/>
<path class="m" d="M521.1 659.5L596.6 659.5"/>
<path d="M524.9 427.6V422.2A13.2 8.4 0 0 1 551.3 422.2V427.6" style="fill:#fff;stroke-width:1.9"/>
<ellipse cx="538.1" cy="427.6" rx="13.2" ry="7.7" style="fill:#fff;stroke-width:1.9"/>
<path class="m" d="M537.2 414L537.2 419.7"/>
<path class="m" d="M539.2 414L539.2 419.7"/>
<path d="M524.5 647V656.6L531.5 663.3H543.9L550.9 656.6V647" style="fill:#fff;stroke-width:1.9"/>
<ellipse cx="537.7" cy="647" rx="13.2" ry="7.7" style="fill:#fff;stroke-width:1.9"/>
<path class="m" d="M536.8 663.3L536.8 654.9"/>
<path class="m" d="M538.8 663.3L538.8 654.9"/>
<circle cx="541.7" cy="445.8" r="5.9" style="stroke-width:2.2"/>
<ellipse cx="541.7" cy="447.0" rx="4" ry="3.4" style="stroke-width:1"/>
<circle cx="541.7" cy="633.3" r="5.9" style="stroke-width:2.2"/>
<ellipse cx="541.7" cy="634.5" rx="4" ry="3.4" style="stroke-width:1"/>
<rect class="n" x="528.0" y="452.2" width="24.7" height="19.3" style="fill:#fff"/>
<path class="k" d="M528.0 464.5L552.7 464.5"/>
<rect class="n" x="527.8" y="607.8" width="25.3" height="19.2" style="fill:#fff"/>
<path class="k" d="M527.8 613.2L553.1 613.2"/>
<rect class="n" x="524.9" y="520.4" width="31" height="38" />
<rect class="t" x="527.3" y="522.5" width="26.4" height="33" />
<path class="m" d="M527.3 542L553.7 542"/>
<path class="t" d="M537.1 543.3L544.1 543.3"/>
<path class="t" style="stroke-width:4.4" d="M525.6 556.3L555.1 556.3"/>
<path class="m" d="M541.9 490.6L541.9 494"/>
<path class="m" d="M541.9 500.3L541.9 503.6"/>
<path class="m" d="M541.9 582.6L541.9 586"/>
<path class="m" d="M541.9 592.9L541.9 595.6"/>
<path d="M563.2 427.6V422.2A13.2 8.4 0 0 1 589.6 422.2V427.6" style="fill:#fff;stroke-width:1.9"/>
<ellipse cx="576.4" cy="427.6" rx="13.2" ry="7.7" style="fill:#fff;stroke-width:1.9"/>
<path class="m" d="M575.5 414L575.5 419.7"/>
<path class="m" d="M577.5 414L577.5 419.7"/>
<path d="M562.8 647V656.6L569.8 663.3H582.2L589.2 656.6V647" style="fill:#fff;stroke-width:1.9"/>
<ellipse cx="576.0" cy="647" rx="13.2" ry="7.7" style="fill:#fff;stroke-width:1.9"/>
<path class="m" d="M575.1 663.3L575.1 654.9"/>
<path class="m" d="M577.1 663.3L577.1 654.9"/>
<circle cx="580.0" cy="445.8" r="5.9" style="stroke-width:2.2"/>
<ellipse cx="580.0" cy="447.0" rx="4" ry="3.4" style="stroke-width:1"/>
<circle cx="580.0" cy="633.3" r="5.9" style="stroke-width:2.2"/>
<ellipse cx="580.0" cy="634.5" rx="4" ry="3.4" style="stroke-width:1"/>
<rect class="n" x="566.3" y="452.2" width="24.7" height="19.3" style="fill:#fff"/>
<path class="k" d="M566.3 464.5L591.0 464.5"/>
<rect class="n" x="566.1" y="607.8" width="25.3" height="19.2" style="fill:#fff"/>
<path class="k" d="M566.1 613.2L591.4 613.2"/>
<rect class="n" x="563.2" y="520.4" width="31" height="38" />
<rect class="t" x="565.6" y="522.5" width="26.4" height="33" />
<path class="m" d="M565.6 542L592.0 542"/>
<path class="t" d="M575.4 543.3L582.4 543.3"/>
<path class="t" style="stroke-width:4.4" d="M563.9 556.3L593.4 556.3"/>
<path class="m" d="M580.2 490.6L580.2 494"/>
<path class="m" d="M580.2 500.3L580.2 503.6"/>
<path class="m" d="M580.2 582.6L580.2 586"/>
<path class="m" d="M580.2 592.9L580.2 595.6"/>
<path class="t" style="stroke-width:4.6" d="M521.1 488.3L596.6 488.3"/>
<path class="t" style="stroke-width:2.2" d="M521.1 495L596.6 495"/>
<path class="t" style="stroke-width:2.2" d="M521.1 499.3L596.6 499.3"/>
<path class="t" style="stroke-width:3.8" d="M521.1 505.4L596.6 505.4"/>
<path class="t" style="stroke-width:1.8" d="M521.1 509.5L596.6 509.5"/>
<path class="t" style="stroke-width:4.6" d="M521.1 580.3L596.6 580.3"/>
<path class="t" style="stroke-width:2.3" d="M521.1 587.1L596.6 587.1"/>
<path class="t" style="stroke-width:2.2" d="M521.1 591.8L596.6 591.8"/>
<path class="t" style="stroke-width:4.6" d="M521.1 597.9L596.6 597.9"/>
<path class="t" style="stroke-width:3.2" d="M521.1 698.9L596.6 698.9"/>
<path class="t" d="M521.1 569.6L596.6 569.6"/>
<path class="k" d="M521.1 681.4L596.6 681.4"/>
<path class="m" d="M596.6 430.2H602.6V706.6H596.6" />
<path class="t" d="M596.6 488L602.6 488"/>
<path class="t" d="M596.6 619.5L602.6 619.5"/>
<path class="t" d="M596.6 663.5L602.6 663.5"/>
<path class="t" d="M596.6 686.7L602.6 686.7"/>
<rect class="f" x="597.4" y="701.6" width="5.4" height="5" />
<g id="bossTL">
<path class="t" d="M203.75 300.8V310.5" />
<path class="t" d="M242.4 293.75V312.5Q243 316.5 250 317H253.3" />
<path class="t" d="M193.6 338Q194 352 203.75 358V365" />
<circle class="t" style="stroke-width:1.9" cx="223.3" cy="334.7" r="29.3" />
<path class="t" style="stroke-width:1.9" d="M205.23 314.64A27 27 0 1 0 241.37 314.64Z" />
<circle class="k" cx="223.3" cy="334.7" r="18.6" />
<circle class="t" cx="223.3" cy="334.7" r="16" />
<circle class="m" cx="223.3" cy="334.7" r="14.2" />
<rect class="m w" x="213.6" y="328.0" width="19.4" height="13.4" rx="6.7" transform="rotate(-48 223.3 334.7)"/>
<path class="m" d="M219.24 328.75L214.03 324.07"/>
<path class="m" d="M216.96 331.28L211.76 326.6"/>
<path class="m" d="M227.36 340.65L232.57 345.33"/>
<path class="m" d="M229.64 338.12L234.84 342.8"/>
<path class="m" d="M209.3 337.1L214.8 337.1"/>
<path class="m" d="M231.8 332.9L237.3 332.9"/>
</g>
<use href="#bossTL" transform="matrix(0,1,-1,0,1223.65,111.95)"/>
<use href="#bossTL" transform="matrix(0,-1,1,0,-111.95,1067.5)"/>
<use href="#bossTL" transform="matrix(-1,0,0,-1,1111.7,1179.45)"/>
<g id="cornerTL">
<path d="M257 352H277Q281.7 352 281.7 357V380Q281.7 385 277 385H258L251.8 377V357Q251.8 352 257 352Z" style="fill:#1b1b1b;stroke:#1b1b1b;stroke-width:1"/>
<path d="M258 355H275.5Q278.6 355 278.6 358V379Q278.6 382 275.5 382H258.5L254.8 377.5V358Q254.8 355 258 355Z" style="stroke:#8c8c8c;stroke-width:.7"/>
<path d="M259.5 358.3H273.8Q275.6 358.3 275.6 360.2V377Q275.6 378.9 273.8 378.9H259.5Q257.7 378.9 257.7 377V360.2Q257.7 358.3 259.5 358.3Z" style="stroke:#777;stroke-width:.7"/>
<rect class="t" x="258.8" y="361.9" width="13.9" height="14.6" style="fill:#fff;stroke:none"/>
<path class="m" d="M259.3 362.2Q266.9 363.4 266.9 369.2Q266.9 375 259.3 376.2" />
<path class="t" d="M262.3 362.2Q268.9 363.8 268.9 369.2Q268.9 374.6 262.3 376.2" />
<rect class="t" x="270.3" y="362.3" width="2.4" height="13.8" style="fill:#fff;stroke:none"/>
<path class="k" d="M269.6 361.9L269.6 376.5"/>
<path d="M249.8 337.02A26.6 26.6 0 0 1 223.76 361.3L224.0 374.69A40 40 0 0 0 263.15 338.19Z" style="fill:#fff;stroke:none"/>
<path class="k" d="M249.8 337.02A26.6 26.6 0 0 1 223.76 361.3" />
<path class="k" d="M256.45 338.77A33.4 33.4 0 0 1 223.88 368.09" />
<path class="m" d="M259.6 338.52A36.5 36.5 0 0 1 223.94 371.19" />
<path class="kk" d="M263.15 338.19A40 40 0 0 1 223.3 374.7" />
<path class="k" d="M249.8 337.02L256.57 337.61"/>
<path class="kk" d="M248.3 343.8L254.69 346.12"/>
<path class="kk" d="M242.11 353.51L246.92 358.32"/>
<path class="kk" d="M235.79 358.19L238.98 364.19"/>
<path class="kk" d="M228.83 360.72L230.24 367.37"/>
<path class="k" d="M223.76 361.3L223.88 368.09"/>
<path class="k" d="M256.45 338.77Q257.05 335.77 259.65 335.57Q263.15 336.17 263.15 338.19" />
<path class="k" d="M223.76 361.3L223.3 374.7" />
<rect class="t" x="235.6" y="378.3" width="3.8" height="25.7" />
<circle class="f" cx="237.5" cy="391.6" r="6.9"/>
<circle cx="237.5" cy="391.6" r="3.4" style="stroke:#777;stroke-width:.9"/>
<path d="M235.5 392.3H239.5" style="stroke:#999;stroke-width:1"/>
</g>
<use href="#cornerTL" transform="translate(1111.7,0) scale(-1,1)"/>
<use href="#cornerTL" transform="translate(0,1179.8) scale(1,-1)"/>
<use href="#cornerTL" transform="translate(1111.7,1179.8) scale(-1,-1)"/>
<rect x="207.9" y="425" width="15.8" height="16.9" rx="1" style="fill:#1b1b1b;stroke:#1b1b1b;stroke-width:.6"/>
<path d="M212.0 427.6H219.6L217.75 429.15H213.85Z" style="fill:#fff;stroke:none"/>
<path d="M212.0 439.3H219.6L217.75 437.75H213.85Z" style="fill:#fff;stroke:none"/>
<path d="M210.5 429.1V437.8L212.05 435.95V430.95Z" style="fill:#fff;stroke:none"/>
<path d="M221.1 429.1V437.8L219.55 435.95V430.95Z" style="fill:#fff;stroke:none"/>
<rect x="213.85" y="430.95" width="3.9" height="5.0" style="fill:#fff;stroke:none"/>
<rect x="888.0" y="737.55" width="15.8" height="16.9" rx="1" style="fill:#1b1b1b;stroke:#1b1b1b;stroke-width:.6"/>
<path d="M892.1 740.15H899.7L897.85 741.7H893.95Z" style="fill:#fff;stroke:none"/>
<path d="M892.1 751.85H899.7L897.85 750.3H893.95Z" style="fill:#fff;stroke:none"/>
<path d="M890.6 741.65V750.35L892.15 748.5V743.5Z" style="fill:#fff;stroke:none"/>
<path d="M901.2 741.65V750.35L899.65 748.5V743.5Z" style="fill:#fff;stroke:none"/>
<rect x="893.95" y="743.5" width="3.9" height="5.0" style="fill:#fff;stroke:none"/>
<rect x="832.2" y="319.5" width="16" height="16.4" rx="1" style="fill:#1b1b1b;stroke:#1b1b1b;stroke-width:.6"/>
<path d="M836.3 322.1H844.1L842.25 323.65H838.15Z" style="fill:#fff;stroke:none"/>
<path d="M836.3 333.3H844.1L842.25 331.75H838.15Z" style="fill:#fff;stroke:none"/>
<path d="M834.8 323.6V331.8L836.35 329.95V325.45Z" style="fill:#fff;stroke:none"/>
<path d="M845.6 323.6V331.8L844.05 329.95V325.45Z" style="fill:#fff;stroke:none"/>
<rect x="838.15" y="325.45" width="4.1" height="4.5" style="fill:#fff;stroke:none"/>
<rect x="263.5" y="843.55" width="16" height="16.4" rx="1" style="fill:#1b1b1b;stroke:#1b1b1b;stroke-width:.6"/>
<path d="M267.6 846.15H275.4L273.55 847.7H269.45Z" style="fill:#fff;stroke:none"/>
<path d="M267.6 857.35H275.4L273.55 855.8H269.45Z" style="fill:#fff;stroke:none"/>
<path d="M266.1 847.65V855.85L267.65 854V849.5Z" style="fill:#fff;stroke:none"/>
<path d="M276.9 847.65V855.85L275.35 854V849.5Z" style="fill:#fff;stroke:none"/>
<rect x="269.45" y="849.5" width="4.1" height="4.5" style="fill:#fff;stroke:none"/>
</g>
<g id="side">
<path class="n" d="M1201.7 270.5V182.7H1236.5V270.5" />
<path class="n" d="M1190.3 289V255.5H1201.7M1236.5 255.5H1247.9V289" />
<path class="n" d="M1190.3 270.5H1201.7M1236.5 270.5H1247.9" />
<path class="n" d="M1153.2 296.5V292Q1153.2 288.8 1156.5 288.8H1281.5Q1284.8 288.8 1285 294.6" />
<path class="t" d="M1155 296V293.3Q1155 291.2 1157.5 291.2H1283" />
<path class="t" d="M1156 294.9L1284 294.9"/>
<path class="t" d="M1185.6 289L1185.6 296"/>
<path class="t" d="M1188 289L1188 296"/>
<path class="t" d="M1250.2 289L1250.2 296"/>
<path class="t" d="M1252.6 289L1252.6 296"/>
<path class="n" d="M1153.2 296.5H1285L1400 293.6" />
<path class="n" d="M1160 296.6L1400 295.7" />
<path class="n" d="M1153.2 296V306.5Q1153.2 310.1 1157 310.1L1400 309.1" />
<path class="kn" d="M1159.6 298.6V303Q1159.6 306.1 1163 306.1L1400 305.1" />
<path class="t" d="M1159.6 298.6Q1159.6 297 1162 296.8" />
<path class="n" d="M1159.6 323.8L1400 322.7" />
<path class="kn" d="M1159.6 330.2L1400 330.2" />
<path class="n" d="M1159.6 335L1392.6 336.2" />
<path class="n" d="M1159.6 340.3L1391 340.3" />
<path class="n" d="M1159.6 346.7L1388.9 345.8" />
<path class="n" d="M1159.6 831.8L1388.9 832" />
<path class="n" d="M1159.6 837.9L1391 836.4" />
<path class="n" d="M1159.6 843.6L1392.6 842.7" />
<path class="kn" d="M1159.6 847.3L1400 846.6" />
<path class="n" d="M1159.6 855.1L1400 856.1" />
<path class="n" d="M1153.5 867.2L1400 869.2" />
<path class="kn" d="M1153.5 870.7L1400 872.6" />
<path class="n" d="M1153.5 867.2V885Q1153.5 888.8 1157 888.8H1168" />
<path class="kn" d="M1159.9 872V878Q1159.9 881.2 1163 881.2L1400 884.6" />
<path class="t" d="M1163 879.3L1400 882.3" />
<path class="n" d="M1167.6 881.5Q1167.8 888.8 1171 888.8H1295.5Q1298.6 888.8 1298.8 883.2" />
<path class="t" d="M1169 884.4L1298 884.4"/>
<path class="t" d="M1169.5 886.8L1297.5 886.8"/>
<path class="t" d="M1200 882L1200 888.8"/>
<path class="t" d="M1202.4 882L1202.4 888.8"/>
<path class="t" d="M1264 882L1264 888.8"/>
<path class="t" d="M1266.5 882L1266.5 888.8"/>
<path class="n" d="M1155.8 310L1155.8 867.2"/>
<path class="n" d="M1159.6 306L1159.6 872"/>
<path class="t" d="M1155.8 320.2H1151.8V349.5H1155.8M1153.4 320.2V349.5" />
<path class="t" d="M1155.8 829H1152V857.7H1155.8M1154 829V857.7" />
<path class="n" d="M1155.8 357.2H1151Q1148.9 357.2 1148.9 359.5V379.5Q1148.9 381.7 1151 381.7H1155.8M1152.2 357.2V381.7M1148.9 369.5H1152.2" />
<path class="n" d="M1155.8 798.2H1151Q1148.9 798.2 1148.9 800.5V818.5Q1148.9 820.8 1151 820.8H1155.8M1152.2 798.2V820.8M1148.9 809.5H1152.2" />
<path class="n" d="M1155.8 406Q1152.2 407 1152.2 411V447Q1152.2 451 1155.8 452" />
<path class="t" d="M1153.8 412L1153.8 446"/>
<path class="n" d="M1155.8 456Q1152.2 457 1152.2 461V495Q1152.2 499 1155.8 500" />
<path class="t" d="M1153.8 462L1153.8 494"/>
<path class="n" d="M1155.8 504Q1152.2 505 1152.2 509V555Q1152.2 559 1155.8 560" />
<path class="t" d="M1153.8 510L1153.8 554"/>
<path class="n" d="M1155.8 564Q1152.2 565 1152.2 569V615Q1152.2 619 1155.8 620" />
<path class="t" d="M1153.8 570L1153.8 614"/>
<path class="n" d="M1155.8 624Q1152.2 625 1152.2 629V671Q1152.2 675 1155.8 676" />
<path class="t" d="M1153.8 630L1153.8 670"/>
<path class="n" d="M1155.8 680Q1152.2 681 1152.2 685V725Q1152.2 729 1155.8 730" />
<path class="t" d="M1153.8 686L1153.8 724"/>
<path class="n" d="M1155.8 734Q1152.2 735 1152.2 739V771Q1152.2 775 1155.8 776" />
<path class="t" d="M1153.8 740L1153.8 770"/>
<path class="m" d="M1161 465.6L1166 468.4L1161 471.2" />
<path class="m" d="M1161 586.8L1166 589.6L1161 592.4" />
<path class="m" d="M1161 708.3L1166 711.1L1161 713.9" />
<path class="n" d="M1388.9 345.8V832M1391.2 341V838" />
<path class="kn" d="M1393.8 336L1393.8 843"/>
<path class="t" d="M1388.9 345.8L1393.8 340.4M1388.9 832L1393.8 837.5" />
<path class="kn" d="M1400.1 293.6L1400.1 884.8"/>
<path class="n" d="M1402.6 294L1402.6 884.6"/>
<path class="n" d="M1400.5 293.6L1489 299.1" />
<path class="n" d="M1402.6 295.8L1487.5 301.6" />
<path class="n" d="M1400.5 884.8L1489.8 879" />
<path class="n" d="M1402.6 882.4L1487.3 877" />
<path class="kn" d="M1489 299.1L1492.6 308.1L1496.6 323.2L1500.5 333" />
<path class="n" d="M1487.5 301.6C1488.2 315 1489.6 335 1490 355.3C1490.6 362 1493.4 366 1493.3 378V589.6" />
<path class="n" d="M1490.6 313.1C1491 330 1493.5 345 1496 351L1500.5 360" />
<path class="n" d="M1490.2 355V589.6" />
<path class="kn" d="M1497.6 352V589.6" />
<path class="n" d="M1489.6 354.1C1470 355.6 1455.5 358.8 1446.3 366.1C1438 373 1434.2 385 1434.2 398.3V589.6" />
<path class="n" d="M1489.8 367.1C1472 369.3 1460 372.3 1452.3 379C1445.6 385.3 1442.3 392.5 1442.3 403V589.6" />
<path class="t" d="M1490 369.6C1473 371.8 1462 374.8 1454.6 381.4C1448 387.6 1444.8 394.5 1444.8 405V589.6" />
<path class="n" d="M1490 373.6C1474 375.8 1465 378.6 1458.6 384.6C1453 390.4 1450.2 397 1450.2 407V589.6" />
<path class="kn" d="M1489 880.1L1492.6 871.1L1496.6 856.0L1500.5 846.2" />
<path class="n" d="M1487.5 877.6C1488.2 864.2 1489.6 844.2 1490 823.9C1490.6 817.2 1493.4 813.2 1493.3 801.2V589.6" />
<path class="n" d="M1490.6 866.1C1491 849.2 1493.5 834.2 1496 828.2L1500.5 819.2" />
<path class="n" d="M1490.2 824.2V589.6" />
<path class="kn" d="M1497.6 827.2V589.6" />
<path class="n" d="M1489.6 825.1C1470 823.6 1455.5 820.4 1446.3 813.1C1438 806.2 1434.2 794.2 1434.2 780.9V589.6" />
<path class="n" d="M1489.8 812.1C1472 809.9 1460 806.9 1452.3 800.2C1445.6 793.9 1442.3 786.7 1442.3 776.2V589.6" />
<path class="t" d="M1490 809.6C1473 807.4 1462 804.4 1454.6 797.8C1448 791.6 1444.8 784.7 1444.8 774.2V589.6" />
<path class="n" d="M1490 805.6C1474 803.4 1465 800.6 1458.6 794.6C1453 788.8 1450.2 782.2 1450.2 772.2V589.6" />
<circle cx="1233.3" cy="468.4" r="57" style="stroke-width:1.8"/>
<circle cx="1233.5" cy="468.6" r="46.9" style="stroke-width:3.1"/>
<circle cx="1233.0" cy="468.8" r="39.4" style="stroke-width:2.8"/>
<circle cx="1232.6" cy="468.6" r="32" style="stroke-width:2.3"/>
<circle cx="1232.8" cy="468.6" r="25.7" style="stroke-width:1.4"/>
<circle cx="1233.2" cy="468.9" r="21.8" style="stroke-width:1.4"/>
<path d="M1183.8 459.2V471.2" style="stroke-width:2.4"/>
<path d="M1188.2 456.2V474.2" style="stroke-width:2.4"/>
<path d="M1192.6 454.2V476.2" style="stroke-width:2.4"/>
<path d="M1197.0 453.2V477.2" style="stroke-width:2.4"/>
<path d="M1201.4 454.2V476.2" style="stroke-width:2.4"/>
<path d="M1205.8 456.2V474.2" style="stroke-width:2.4"/>
<path d="M1210.2 459.2V471.2" style="stroke-width:2.4"/>
<path d="M1181.8 458.6H1212.2" style="stroke-width:1.7"/>
<path d="M1181.8 463.0H1212.2" style="stroke-width:1.7"/>
<path d="M1181.8 467.4H1212.2" style="stroke-width:1.7"/>
<path d="M1181.8 471.8H1212.2" style="stroke-width:1.7"/>
<path d="M1186.0 464.2V469.6" style="stroke:#fff;stroke-width:1.3"/>
<path d="M1186.0 456.2V460.6" style="stroke:#fff;stroke-width:1"/>
<path d="M1190.4 464.2V469.6" style="stroke:#fff;stroke-width:1.3"/>
<path d="M1190.4 456.2V460.6" style="stroke:#fff;stroke-width:1"/>
<path d="M1194.8 464.2V469.6" style="stroke:#fff;stroke-width:1.3"/>
<path d="M1194.8 456.2V460.6" style="stroke:#fff;stroke-width:1"/>
<path d="M1199.2 464.2V469.6" style="stroke:#fff;stroke-width:1.3"/>
<path d="M1199.2 456.2V460.6" style="stroke:#fff;stroke-width:1"/>
<path d="M1203.6 464.2V469.6" style="stroke:#fff;stroke-width:1.3"/>
<path d="M1203.6 456.2V460.6" style="stroke:#fff;stroke-width:1"/>
<path d="M1208.0 464.2V469.6" style="stroke:#fff;stroke-width:1.3"/>
<path d="M1208.0 456.2V460.6" style="stroke:#fff;stroke-width:1"/>
<circle cx="1219.1" cy="589.6" r="46.6" style="stroke-width:1.8"/>
<circle cx="1220.5" cy="589.6" r="39.8" style="stroke-width:1.5"/>
<circle cx="1220.5" cy="589.6" r="37.8" style="stroke-width:1.5"/>
<circle cx="1220.5" cy="589.5" r="30.8" style="stroke-width:2.5"/>
<circle cx="1220.1" cy="589.8" r="25.4" style="stroke-width:1.6"/>
<circle cx="1219.5" cy="589.8" r="22.4" style="stroke-width:1.6"/>
<path d="M1176.6 578.4V594.4" style="stroke-width:2.4"/>
<path d="M1181.0 575.4V597.4" style="stroke-width:2.4"/>
<path d="M1185.4 574.4V598.4" style="stroke-width:2.4"/>
<path d="M1189.8 575.4V597.4" style="stroke-width:2.4"/>
<path d="M1194.2 578.4V594.4" style="stroke-width:2.4"/>
<path d="M1174.6 579.8H1196.2" style="stroke-width:1.7"/>
<path d="M1174.6 584.2H1196.2" style="stroke-width:1.7"/>
<path d="M1174.6 588.6H1196.2" style="stroke-width:1.7"/>
<path d="M1174.6 593.0H1196.2" style="stroke-width:1.7"/>
<path d="M1178.8 585.4V590.8" style="stroke:#fff;stroke-width:1.3"/>
<path d="M1178.8 577.4V581.8" style="stroke:#fff;stroke-width:1"/>
<path d="M1183.2 585.4V590.8" style="stroke:#fff;stroke-width:1.3"/>
<path d="M1183.2 577.4V581.8" style="stroke:#fff;stroke-width:1"/>
<path d="M1187.6 585.4V590.8" style="stroke:#fff;stroke-width:1.3"/>
<path d="M1187.6 577.4V581.8" style="stroke:#fff;stroke-width:1"/>
<path d="M1192.0 585.4V590.8" style="stroke:#fff;stroke-width:1.3"/>
<path d="M1192.0 577.4V581.8" style="stroke:#fff;stroke-width:1"/>
<circle cx="1233.3" cy="711.1" r="57" style="stroke-width:1.8"/>
<circle cx="1233.5" cy="711.3" r="46.9" style="stroke-width:3.1"/>
<circle cx="1233.0" cy="711.5" r="39.4" style="stroke-width:2.8"/>
<circle cx="1232.6" cy="711.3" r="32" style="stroke-width:2.3"/>
<circle cx="1232.8" cy="711.3" r="25.7" style="stroke-width:1.4"/>
<circle cx="1233.2" cy="711.6" r="21.8" style="stroke-width:1.4"/>
<path d="M1183.8 701.9V713.9" style="stroke-width:2.4"/>
<path d="M1188.2 698.9V716.9" style="stroke-width:2.4"/>
<path d="M1192.6 696.9V718.9" style="stroke-width:2.4"/>
<path d="M1197.0 695.9V719.9" style="stroke-width:2.4"/>
<path d="M1201.4 696.9V718.9" style="stroke-width:2.4"/>
<path d="M1205.8 698.9V716.9" style="stroke-width:2.4"/>
<path d="M1210.2 701.9V713.9" style="stroke-width:2.4"/>
<path d="M1181.8 701.3H1212.2" style="stroke-width:1.7"/>
<path d="M1181.8 705.7H1212.2" style="stroke-width:1.7"/>
<path d="M1181.8 710.1H1212.2" style="stroke-width:1.7"/>
<path d="M1181.8 714.5H1212.2" style="stroke-width:1.7"/>
<path d="M1186.0 706.9V712.3" style="stroke:#fff;stroke-width:1.3"/>
<path d="M1186.0 698.9V703.3" style="stroke:#fff;stroke-width:1"/>
<path d="M1190.4 706.9V712.3" style="stroke:#fff;stroke-width:1.3"/>
<path d="M1190.4 698.9V703.3" style="stroke:#fff;stroke-width:1"/>
<path d="M1194.8 706.9V712.3" style="stroke:#fff;stroke-width:1.3"/>
<path d="M1194.8 698.9V703.3" style="stroke:#fff;stroke-width:1"/>
<path d="M1199.2 706.9V712.3" style="stroke:#fff;stroke-width:1.3"/>
<path d="M1199.2 698.9V703.3" style="stroke:#fff;stroke-width:1"/>
<path d="M1203.6 706.9V712.3" style="stroke:#fff;stroke-width:1.3"/>
<path d="M1203.6 698.9V703.3" style="stroke:#fff;stroke-width:1"/>
<path d="M1208.0 706.9V712.3" style="stroke:#fff;stroke-width:1.3"/>
<path d="M1208.0 698.9V703.3" style="stroke:#fff;stroke-width:1"/>
<path class="n" d="M1191 888.8V922.2H1202.4M1191 907.4H1202.4V922.2" />
<rect class="n" x="1205.2" y="888.8" width="56.3" height="33.4" />
<path class="n" d="M1202 922.2V994.8H1250.7V922.2" />
<path class="n" d="M1220.9 922.2V994.8M1246 922.2V994.8" />
<rect class="n" x="1223" y="922.2" width="20.4" height="34.2" />
<path class="n" d="M1223 940.8L1243.4 940.8"/>
<path class="n" d="M1202 956.9H1220.9M1246 956.9H1250.7M1202 972.6H1220.9M1246 972.6H1250.7" />
<path class="n" d="M1227.1 956.4V994.8M1239.6 956.4V994.8" />
</g>
</svg>
</body></html>
